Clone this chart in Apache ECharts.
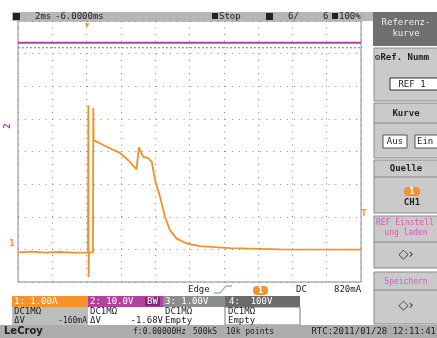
<!DOCTYPE html>
<html>
<head>
<meta charset="utf-8">
<script src="https://cdn.jsdelivr.net/npm/echarts@6/dist/echarts.min.js"></script>
<style>
  html, body { margin: 0; padding: 0; background: #fff; }
  #chart { width: 437px; height: 338px; }
</style>
</head>
<body>
<div id="chart"></div>
<script>
// CH1 current trace, time in ms (2 ms/div), current in A (1 A/div)
const ch1Time = [-10, -9.2, -8.4, -7.6, -6.8, -5.92, -5.9, -5.88, -5.86, -5.63, -5.61, -5.59,
  -5.04, -4.52, -4.05, -3.59, -3.09, -2.95, -2.71, -2.42, -2.20, -2.01, -1.72, -1.43,
  -1.14, -0.75, -0.16, 0.61, 2.36, 5.28, 10];
const ch1Amp = [-0.09, -0.07, -0.1, -0.08, -0.1, -0.09, 4.42, -0.85, -0.09, -0.09, 4.33, 3.35,
  3.20, 3.07, 2.96, 2.74, 2.45, 3.13, 2.84, 2.80, 2.68, 2.12, 1.61, 1.00,
  0.59, 0.33, 0.18, 0.10, 0.04, 0.0, -0.01];
// CH2 voltage (flat) and the gray reference trace, expressed on the same division scale
const ch2Time = [-10, 10];
const ch2Level = [6.33, 6.33];
const refLevel = [6.18, 6.18];

const chart = echarts.init(document.getElementById('chart'));
const font = '9px "DejaVu Sans Mono"';
const fontS = '8px "DejaVu Sans Mono"';
const fontB = 'bold 9px "DejaVu Sans Mono"';

function rect(x, y, w, h, fill, stroke) {
  return { type: 'rect', shape: { x, y, width: w, height: h },
    style: { fill, stroke: stroke || null, lineWidth: 1 }, silent: true };
}
function txt(s, x, y, fill, align, f) {
  return { type: 'text', style: { text: s, x, y, fill: fill || '#222', font: f || font,
    align: align || 'left', verticalAlign: 'middle' }, silent: true, z: 10 };
}
function hline(x1, x2, y, c) {
  return { type: 'line', shape: { x1, y1: y, x2, y2: y }, style: { stroke: c || '#888', lineWidth: 1 }, silent: true };
}

const pink = '#d45ab8';
const graphics = [
  // top status bar
  rect(12, 12, 361, 9, '#b6b6b6'),
  rect(13, 13, 7, 7, '#222'),
  txt('2ms', 35, 16.5),
  txt('-6.0000ms', 55, 16.5),
  rect(212, 13, 6, 6, '#222'),
  txt('Stop', 219, 16.5),
  rect(266, 13, 7, 7, '#222'),
  txt('6/', 288, 16.5),
  txt('6', 323, 16.5),
  rect(332, 13, 6, 6, '#222'),
  txt('100%', 339, 16.5),
  // right menu
  rect(373, 12, 64, 34, '#707070'),
  txt('Referenz-', 406, 23, '#eee', 'center'),
  txt('kurve', 406, 34, '#eee', 'center'),
  rect(374, 48, 64, 53, '#cacaca', '#8a8a8a'),
  txt('\u2699Ref. Numm', 375, 58, '#222', 'left', fontB),
  rect(390, 78, 48, 12, '#fff', '#333'),
  txt('REF 1', 412, 84.5, '#222', 'center'),
  rect(374, 103, 64, 55, '#cacaca', '#8a8a8a'),
  txt('Kurve', 406, 114, '#222', 'center', fontB),
  hline(374, 437, 123),
  rect(383, 135, 24, 13, '#fff', '#555'),
  txt('Aus', 395, 141.5, '#222', 'center'),
  rect(415, 135, 23, 13, '#fff', '#555'),
  txt('Ein', 417, 141.5, '#222', 'left'),
  rect(374, 160, 64, 53, '#cacaca', '#8a8a8a'),
  txt('Quelle', 406, 169, '#222', 'center', fontB),
  hline(374, 437, 177),
  { type: 'rect', shape: { x: 404, y: 187, width: 16, height: 9, r: 4 }, style: { fill: '#f5922a' }, silent: true },
  txt('1', 412, 191.5, '#fff', 'center', fontB),
  txt('CH1', 412, 203, '#222', 'center', fontB),
  rect(374, 216, 64, 52, '#cacaca', '#8a8a8a'),
  txt('REF Einstell', 376, 223, pink, 'left', fontS),
  txt('ung laden', 406, 233, pink, 'center', fontS),
  hline(374, 437, 242),
  txt('\u25C7\u203A', 406, 255, '#333', 'center', '13px "DejaVu Sans"'),
  rect(374, 272, 64, 52, '#cacaca', '#8a8a8a'),
  txt('Speichern', 406, 282, pink, 'center', fontS),
  hline(374, 437, 290),
  txt('\u25C7\u203A', 406, 306, '#333', 'center', '13px "DejaVu Sans"'),
  // markers around the grid
  txt('1', 12, 244, '#f5922a', 'center', fontB),
  txt('T', 364, 214, '#f5922a', 'center', fontB),
  txt('\u25BC', 87, 25, '#f5922a', 'center', '6px "DejaVu Sans"'),
  { type: 'text', rotation: Math.PI / 2, x: 8, y: 126,
    style: { text: '2', fill: '#b040a0', font: fontB, align: 'center', verticalAlign: 'middle' }, silent: true },
  // trigger line under the grid
  txt('Edge', 188, 290),
  { type: 'polyline', shape: { points: [[214, 293], [220, 293], [226, 286], [232, 286]] },
    style: { stroke: '#5a9a8a', lineWidth: 1, fill: null }, silent: true },
  { type: 'rect', shape: { x: 253, y: 286, width: 15, height: 9, r: 4 }, style: { fill: '#f5922a' }, silent: true },
  txt('1', 260.5, 290.5, '#fff', 'center', fontB),
  txt('DC', 296, 290),
  txt('820mA', 334, 290),
  // channel strip
  rect(12, 296, 76, 11, '#f5922a'),
  txt('1: 1.00A', 14, 301.5, '#fff'),
  rect(88, 296, 75, 11, '#b3429f'),
  txt('2: 10.0V', 90, 301.5, '#fff'),
  rect(145, 297, 15, 9, '#7a2a6e'),
  txt('BW', 147, 301.5, '#fff'),
  rect(163, 296, 62, 11, '#8c8c8c'),
  txt('3: 1.00V', 165, 301.5, '#fff'),
  rect(225, 296, 75, 11, '#6a6a6a'),
  txt('4:  100V', 229, 301.5, '#fff'),
  rect(12, 307, 76, 18, '#bdbdbd'),
  rect(225, 307, 75, 18, '#fff', '#777'),
  txt('DC1M\u03A9', 14, 311.5), txt('\u0394V', 14, 320.5), txt('-160mA', 87, 320.5, '#222', 'right', fontS),
  txt('DC1M\u03A9', 90, 311.5), txt('\u0394V', 90, 320.5), txt('-1.68V', 163, 320.5, '#222', 'right'),
  txt('DC1M\u03A9', 165, 311.5), txt('Empty', 165, 320.5),
  txt('DC1M\u03A9', 228, 311.5), txt('Empty', 228, 320.5),
  // bottom status bar
  rect(0, 325, 437, 13, '#acacac'),
  txt('LeCroy', 4, 331.5, '#222', 'left', 'bold 10px "DejaVu Sans"'),
  txt('f:0.00000Hz', 133, 331.5, '#222', 'left', fontS),
  txt('500kS', 193, 331.5, '#222', 'left', fontS),
  txt('10k points', 226, 331.5, '#222', 'left', fontS),
  txt('RTC:2011/01/28 12:11:41', 436, 331.5, '#222', 'right')
];

const dotted = (gap) => ({ show: true, lineStyle: { color: '#8e8e8e', width: 1, type: [1, gap] } });

chart.setOption({
  animation: false,
  backgroundColor: '#fff',
  grid: { left: 18, top: 21, width: 343, height: 261, show: true, borderColor: '#8a8a8a', borderWidth: 1, backgroundColor: '#fff' },
  xAxis: {
    type: 'value', min: -10, max: 10, interval: 2,
    axisLine: { show: false }, axisTick: { show: false }, axisLabel: { show: false },
    splitLine: dotted(5.5)
  },
  yAxis: {
    type: 'value', min: -1, max: 7, interval: 1,
    axisLine: { show: false }, axisTick: { show: false }, axisLabel: { show: false },
    splitLine: dotted(5.9)
  },
  series: [
    {
      type: 'line', showSymbol: false, silent: true,
      data: ch2Time.map((t, i) => [t, refLevel[i]]),
      lineStyle: { color: '#7a7a7a', width: 1, type: [2, 2] }
    },
    {
      type: 'line', showSymbol: false, silent: true,
      data: ch2Time.map((t, i) => [t, ch2Level[i]]),
      lineStyle: { color: '#a8449e', width: 2 }
    },
    {
      type: 'line', showSymbol: false, silent: true,
      data: ch1Time.map((t, i) => [t, ch1Amp[i]]),
      lineStyle: { color: '#f0912a', width: 1.8 }
    }
  ],
  graphic: graphics
});
</script>
</body>
</html>
